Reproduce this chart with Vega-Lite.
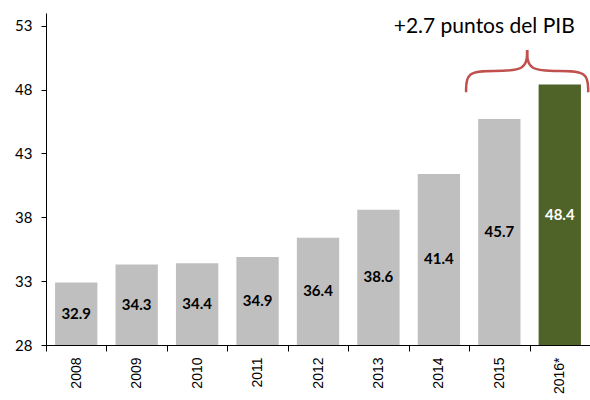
{
  "$schema": "https://vega.github.io/schema/vega-lite/v6.json",
  "width": 544,
  "height": 332,
  "autosize": {"type": "none"},
  "padding": {"left": 46, "top": 13, "right": 0, "bottom": 55},
  "config": {
    "view": {"stroke": null},
    "font": "Lato",
    "axisX": {
      "title": null, "labelAngle": -90, "labelAlign": "right", "labelBaseline": "middle",
      "labelFont": "Liberation Sans", "labelFontSize": 14, "labelColor": "black",
      "labelPadding": 6, "tickBand": "extent", "tickSize": 6,
      "domainColor": "black", "tickColor": "black", "grid": false, "zindex": 1
    },
    "axisY": {
      "title": null, "grid": false,
      "labelFont": "Lato", "labelFontSize": 15, "labelColor": "black",
      "labelPadding": 9, "tickSize": 5, "domainColor": "black", "tickColor": "black", "zindex": 1
    }
  },
  "datasets": {
    "deuda": [
      {"anio": "2008", "valor": 32.9},
      {"anio": "2009", "valor": 34.3},
      {"anio": "2010", "valor": 34.4},
      {"anio": "2011", "valor": 34.9},
      {"anio": "2012", "valor": 36.4},
      {"anio": "2013", "valor": 38.6},
      {"anio": "2014", "valor": 41.4},
      {"anio": "2015", "valor": 45.7},
      {"anio": "2016*", "valor": 48.4}
    ],
    "llave": [
      {"lado": "izq", "orden": 1, "u": 6.95, "v": 47.8},
      {"lado": "izq", "orden": 2, "u": 6.95, "v": 49.46},
      {"lado": "izq", "orden": 3, "u": 7.4, "v": 49.46},
      {"lado": "izq", "orden": 4, "u": 7.96, "v": 49.46},
      {"lado": "izq", "orden": 5, "u": 7.96, "v": 51.1},
      {"lado": "der", "orden": 1, "u": 8.97, "v": 47.8},
      {"lado": "der", "orden": 2, "u": 8.97, "v": 49.46},
      {"lado": "der", "orden": 3, "u": 8.5, "v": 49.46},
      {"lado": "der", "orden": 4, "u": 7.96, "v": 49.46},
      {"lado": "der", "orden": 5, "u": 7.96, "v": 51.1}
    ],
    "nota": [
      {"u": 7.25, "v": 52.9, "texto": "+2.7 puntos del PIB"}
    ]
  },
  "resolve": {"scale": {"x": "independent"}, "axis": {"x": "independent"}},
  "layer": [
    {
      "data": {"name": "deuda"},
      "layer": [
        {
          "mark": {"type": "bar", "width": {"band": 0.7}},
          "encoding": {
            "x": {
              "field": "anio", "type": "nominal", "sort": null,
              "scale": {"paddingInner": 0, "paddingOuter": 0}
            },
            "y": {
              "field": "valor", "type": "quantitative",
              "scale": {"domain": [28, 54], "nice": false, "zero": false},
              "axis": {"values": [28, 33, 38, 43, 48, 53]}
            },
            "y2": {"datum": 28},
            "color": {
              "condition": {"test": "datum.anio === '2016*'", "value": "#4f6228"},
              "value": "#bfbfbf"
            }
          }
        },
        {
          "transform": [{"calculate": "(datum.valor + 28) / 2", "as": "medio"}],
          "mark": {"type": "text", "font": "Lato", "fontWeight": "bold", "fontSize": 15, "baseline": "middle"},
          "encoding": {
            "x": {"field": "anio", "type": "nominal", "sort": null},
            "y": {"field": "medio", "type": "quantitative"},
            "text": {"field": "valor", "type": "quantitative", "format": ".1f"},
            "color": {
              "condition": {"test": "datum.anio === '2016*'", "value": "white"},
              "value": "black"
            }
          }
        }
      ]
    },
    {
      "layer": [
        {
          "data": {"name": "llave"},
          "mark": {"type": "line", "interpolate": "basis", "stroke": "#c0504d", "strokeWidth": 2.5, "clip": false},
          "encoding": {
            "x": {"field": "u", "type": "quantitative", "scale": {"domain": [0, 9], "nice": false, "zero": false}, "axis": null},
            "y": {"field": "v", "type": "quantitative"},
            "detail": {"field": "lado"},
            "order": {"field": "orden"}
          }
        },
        {
          "data": {"name": "nota"},
          "mark": {"type": "text", "font": "Lato", "fontSize": 21, "baseline": "middle", "align": "center", "color": "black"},
          "encoding": {
            "x": {"field": "u", "type": "quantitative", "scale": {"domain": [0, 9], "nice": false, "zero": false}, "axis": null},
            "y": {"field": "v", "type": "quantitative"},
            "text": {"field": "texto"}
          }
        }
      ]
    }
  ]
}
